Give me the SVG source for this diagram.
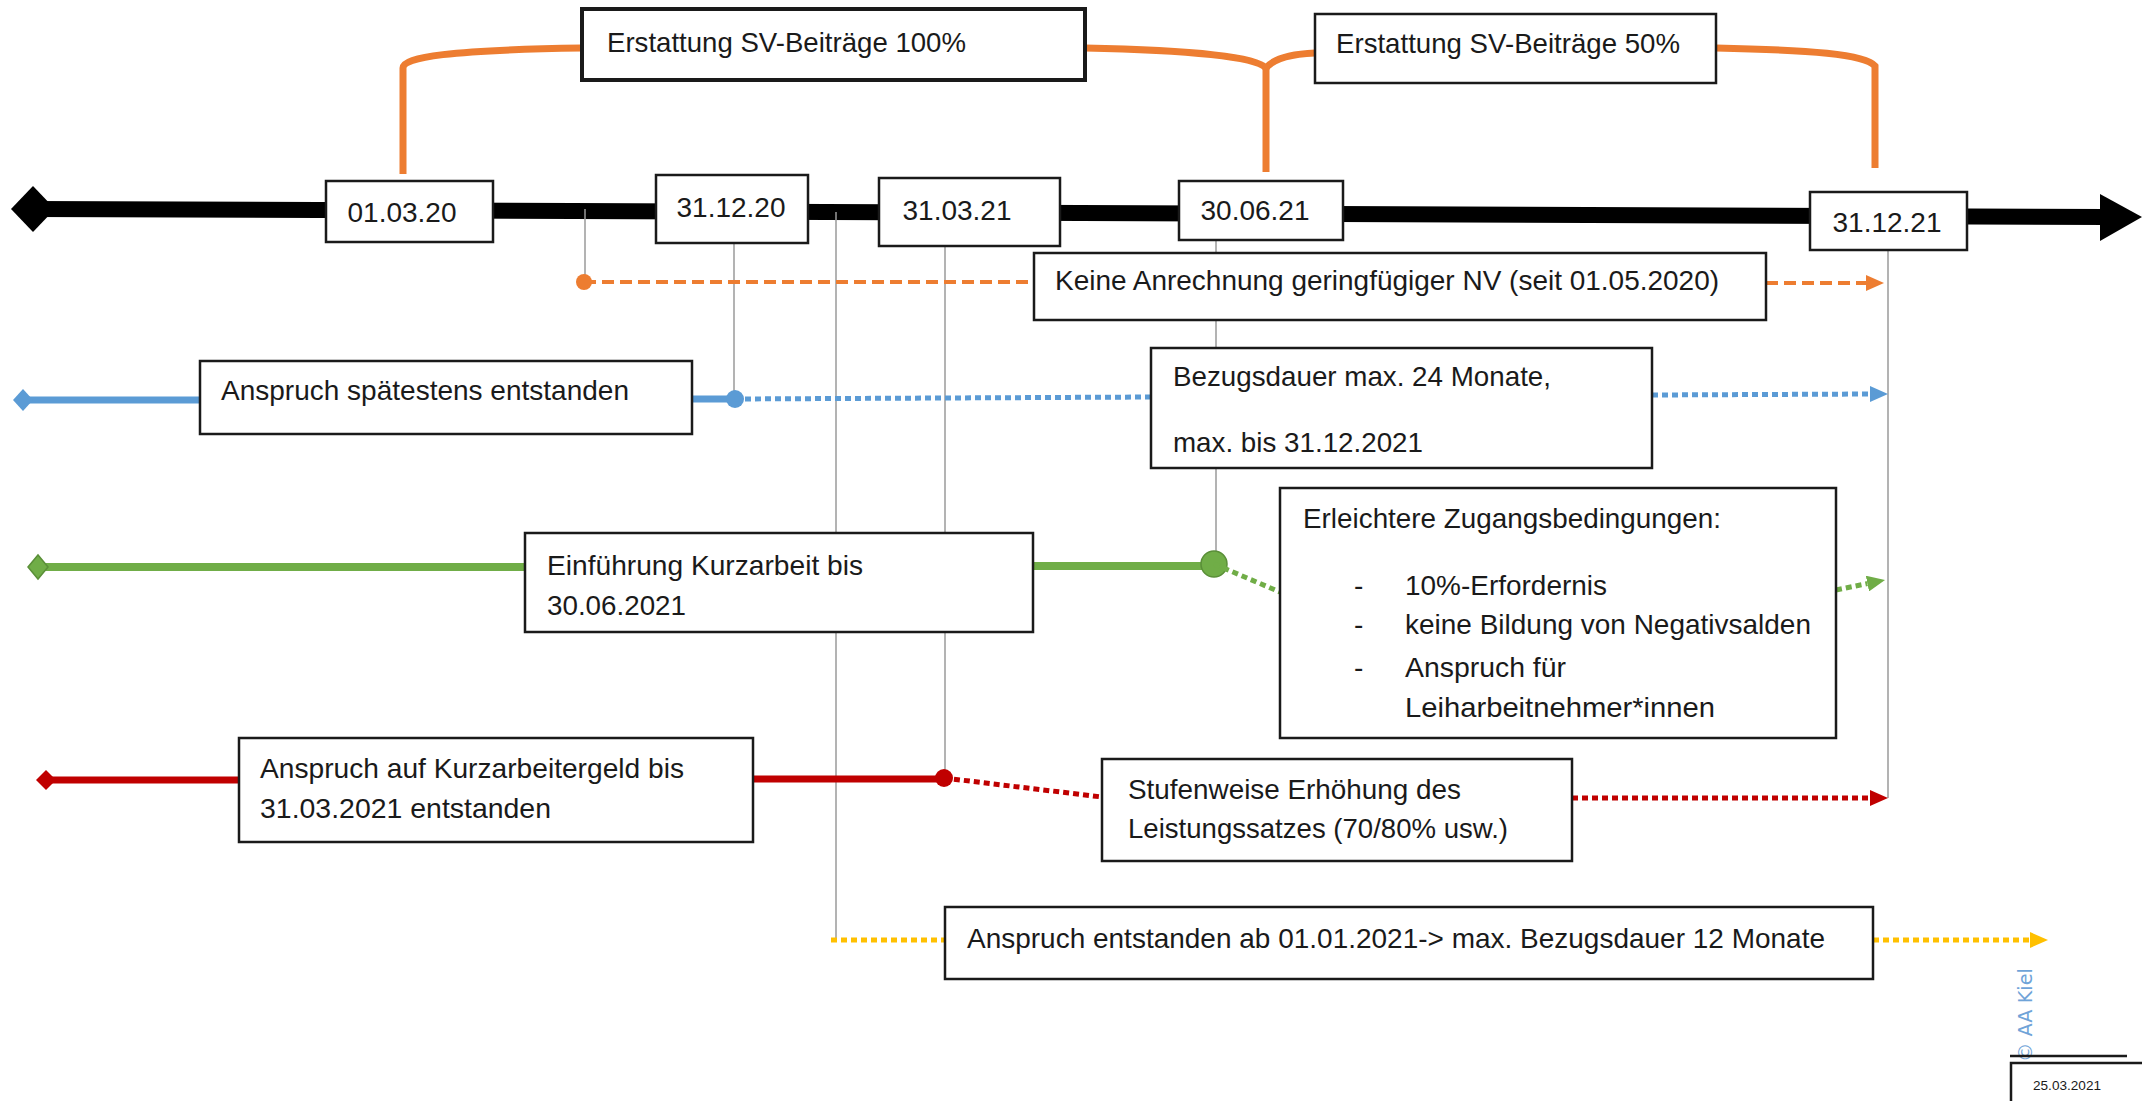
<svg xmlns="http://www.w3.org/2000/svg" width="2142" height="1101" viewBox="0 0 2142 1101">
<style>
.box{fill:#fff;stroke:#1a1a1a;stroke-width:2.5}
.t{font-family:"Liberation Sans",Arial,sans-serif;font-size:28px;fill:#1a1a1a}
.d{text-anchor:middle}
.grey{stroke:#9a9a9a;stroke-width:1.5;fill:none}
.or{stroke:#ED7D31;fill:none}
.bl{stroke:#5B9BD5;fill:none}
.gr{stroke:#70AD47;fill:none}
.rd{stroke:#C00000;fill:none}
.ye{stroke:#FFC000;fill:none}
.dash{stroke-width:4;stroke-dasharray:12 6}
.dot{stroke-width:5;stroke-dasharray:6 4}
</style>
<defs>
<marker id="aO" markerUnits="userSpaceOnUse" markerWidth="18" markerHeight="16" refX="0" refY="8" orient="auto" viewBox="0 0 18 16"><path d="M0,0 L18,8 L0,16 z" fill="#ED7D31"/></marker>
<marker id="aB" markerUnits="userSpaceOnUse" markerWidth="18" markerHeight="16" refX="0" refY="8" orient="auto" viewBox="0 0 18 16"><path d="M0,0 L18,8 L0,16 z" fill="#5B9BD5"/></marker>
<marker id="aG" markerUnits="userSpaceOnUse" markerWidth="18" markerHeight="16" refX="0" refY="8" orient="auto" viewBox="0 0 18 16"><path d="M0,0 L18,8 L0,16 z" fill="#70AD47"/></marker>
<marker id="aR" markerUnits="userSpaceOnUse" markerWidth="18" markerHeight="16" refX="0" refY="8" orient="auto" viewBox="0 0 18 16"><path d="M0,0 L18,8 L0,16 z" fill="#C00000"/></marker>
<marker id="aY" markerUnits="userSpaceOnUse" markerWidth="18" markerHeight="16" refX="0" refY="8" orient="auto" viewBox="0 0 18 16"><path d="M0,0 L18,8 L0,16 z" fill="#FFC000"/></marker>
</defs>
<rect width="2142" height="1101" fill="#fff"/>
<g id="connectors">
  <path d="M33 209 L2105 217" stroke="#000" stroke-width="16" fill="none"/>
  <polygon points="11,209 33,186 55,209 33,232" fill="#000"/>
  <polygon points="2100,194 2142,217 2100,241" fill="#000"/>
  <line class="grey" x1="585" y1="209" x2="585" y2="282"/>
  <line class="grey" x1="734" y1="243" x2="734" y2="399"/>
  <line class="grey" x1="836" y1="212" x2="836" y2="940"/>
  <line class="grey" x1="945" y1="246" x2="945" y2="778"/>
  <line class="grey" x1="1216" y1="240" x2="1216" y2="563"/>
  <line class="grey" x1="1888" y1="250" x2="1888" y2="798"/>
  <path class="or" stroke-width="7" d="M403 174 V68 C403 57 450 50 582 48"/>
  <path class="or" stroke-width="7" d="M1085 48 C1190 50 1256 57 1266 68 C1274 58 1292 54 1315 53"/>
  <path class="or" stroke-width="7" d="M1266 66 V172"/>
  <path class="or" stroke-width="7" d="M1716 48 C1810 50 1865 54 1875 66 V168"/>
  <path class="or dash" d="M584 282 H1034"/>
  <path class="or dash" d="M1766 283 H1866" marker-end="url(#aO)"/>
  <circle cx="584" cy="282" r="8" fill="#ED7D31"/>
  <line class="bl" stroke-width="7" x1="23" y1="400" x2="200" y2="400"/>
  <line class="bl" stroke-width="7" x1="692" y1="399" x2="735" y2="399"/>
  <polygon points="13,400 23,389 33,400 23,411" fill="#5B9BD5"/>
  <circle cx="735" cy="399" r="9" fill="#5B9BD5"/>
  <path class="bl dot" d="M735 399 L1151 397"/>
  <path class="bl dot" d="M1652 395 L1870 394" marker-end="url(#aB)"/>
  <line class="gr" stroke-width="8" x1="38" y1="567" x2="525" y2="567"/>
  <line class="gr" stroke-width="8" x1="1033" y1="566" x2="1214" y2="566"/>
  <polygon points="28,567 38,555 48,567 38,579" fill="#70AD47" stroke="#5a8f38" stroke-width="1.5"/>
  <circle cx="1214" cy="564" r="13" fill="#70AD47" stroke="#5a8f38" stroke-width="1.5"/>
  <path class="gr dot" d="M1214 564 L1280 592"/>
  <path class="gr dot" d="M1836 590 L1867.4 583.6" marker-end="url(#aG)"/>
  <line class="rd" stroke-width="7" x1="46" y1="780" x2="239" y2="780"/>
  <line class="rd" stroke-width="7" x1="753" y1="779" x2="944" y2="779"/>
  <polygon points="36,780 46,770 56,780 46,790" fill="#C00000"/>
  <circle cx="944" cy="778" r="9" fill="#C00000"/>
  <path class="rd dot" d="M944 778 L1102 797"/>
  <path class="rd dot" d="M1572 798 L1870 798" marker-end="url(#aR)"/>
  <path class="ye dot" d="M831 940 L945 940"/>
  <path class="ye dot" d="M1873 940 L2030 940" marker-end="url(#aY)"/>
</g>
<g id="node-sv100">
  <rect x="582" y="9" width="503" height="71" fill="#fff" stroke="#1a1a1a" stroke-width="4"/>
  <text class="t" x="607" y="52" textLength="359" lengthAdjust="spacingAndGlyphs">Erstattung SV-Beiträge 100%</text>
</g>
<g id="node-sv50">
  <rect class="box" x="1315" y="14" width="401" height="69"/>
  <text class="t" x="1336" y="53" textLength="344" lengthAdjust="spacingAndGlyphs">Erstattung SV-Beiträge 50%</text>
</g>
<g id="node-d010320">
  <rect class="box" x="326" y="181" width="167" height="61"/>
  <text class="t d" x="402" y="222">01.03.20</text>
</g>
<g id="node-d311220">
  <rect class="box" x="656" y="175" width="152" height="68"/>
  <text class="t d" x="731" y="217">31.12.20</text>
</g>
<g id="node-d310321">
  <rect class="box" x="879" y="178" width="181" height="68"/>
  <text class="t d" x="957" y="220">31.03.21</text>
</g>
<g id="node-d300621">
  <rect class="box" x="1179" y="181" width="164" height="59"/>
  <text class="t d" x="1255" y="220">30.06.21</text>
</g>
<g id="node-d311221">
  <rect class="box" x="1810" y="192" width="157" height="58"/>
  <text class="t d" x="1887" y="232">31.12.21</text>
</g>
<g id="node-keine">
  <rect class="box" x="1034" y="253" width="732" height="67"/>
  <text class="t" x="1055" y="290" textLength="664" lengthAdjust="spacingAndGlyphs">Keine Anrechnung geringfügiger NV (seit 01.05.2020)</text>
</g>
<g id="node-spaetestens">
  <rect class="box" x="200" y="361" width="492" height="73"/>
  <text class="t" x="221" y="400" textLength="408" lengthAdjust="spacingAndGlyphs">Anspruch spätestens entstanden</text>
</g>
<g id="node-bezugsdauer">
  <rect class="box" x="1151" y="348" width="501" height="120"/>
  <text class="t" x="1173" y="386" textLength="378" lengthAdjust="spacingAndGlyphs">Bezugsdauer max. 24 Monate,</text>
  <text class="t" x="1173" y="452" textLength="250" lengthAdjust="spacingAndGlyphs">max. bis 31.12.2021</text>
</g>
<g id="node-einfuehrung">
  <rect class="box" x="525" y="533" width="508" height="99"/>
  <text class="t" x="547" y="575" textLength="316" lengthAdjust="spacingAndGlyphs">Einführung Kurzarbeit bis</text>
  <text class="t" x="547" y="615" textLength="139" lengthAdjust="spacingAndGlyphs">30.06.2021</text>
</g>
<g id="node-erleichtert">
  <rect class="box" x="1280" y="488" width="556" height="250"/>
  <text class="t" x="1303" y="528" textLength="418" lengthAdjust="spacingAndGlyphs">Erleichtere Zugangsbedingungen:</text>
  <text class="t" x="1354" y="595">-</text>
  <text class="t" x="1405" y="595" textLength="202" lengthAdjust="spacingAndGlyphs">10%-Erfordernis</text>
  <text class="t" x="1354" y="634">-</text>
  <text class="t" x="1405" y="634" textLength="406" lengthAdjust="spacingAndGlyphs">keine Bildung von Negativsalden</text>
  <text class="t" x="1354" y="677">-</text>
  <text class="t" x="1405" y="677" textLength="161" lengthAdjust="spacingAndGlyphs">Anspruch für</text>
  <text class="t" x="1405" y="717" textLength="310" lengthAdjust="spacingAndGlyphs">Leiharbeitnehmer*innen</text>
</g>
<g id="node-kug">
  <rect class="box" x="239" y="738" width="514" height="104"/>
  <text class="t" x="260" y="778" textLength="424" lengthAdjust="spacingAndGlyphs">Anspruch auf Kurzarbeitergeld bis</text>
  <text class="t" x="260" y="818" textLength="291" lengthAdjust="spacingAndGlyphs">31.03.2021 entstanden</text>
</g>
<g id="node-stufenweise">
  <rect class="box" x="1102" y="759" width="470" height="102"/>
  <text class="t" x="1128" y="799" textLength="333" lengthAdjust="spacingAndGlyphs">Stufenweise Erhöhung des</text>
  <text class="t" x="1128" y="838" textLength="380" lengthAdjust="spacingAndGlyphs">Leistungssatzes (70/80% usw.)</text>
</g>
<g id="node-ab2021">
  <rect class="box" x="945" y="907" width="928" height="72"/>
  <text class="t" x="967" y="948" textLength="858" lengthAdjust="spacingAndGlyphs">Anspruch entstanden ab 01.01.2021-&gt; max. Bezugsdauer 12 Monate</text>
</g>
<g id="footer">
  <text transform="translate(2032,1062) rotate(-90)" x="0" y="0" font-family="DejaVu Sans, sans-serif" font-size="19" fill="#6FA3D8" textLength="94" lengthAdjust="spacingAndGlyphs">© AA Kiel</text>
  <line x1="2010" y1="1056" x2="2127" y2="1056" stroke="#1a1a1a" stroke-width="2.5"/>
  <rect x="2011" y="1063" width="140" height="50" fill="#fff" stroke="#1a1a1a" stroke-width="2.5"/>
  <text x="2033" y="1090" font-family="Liberation Sans, Arial, sans-serif" font-size="13" fill="#1a1a1a" textLength="68" lengthAdjust="spacingAndGlyphs">25.03.2021</text>
</g>
</svg>
